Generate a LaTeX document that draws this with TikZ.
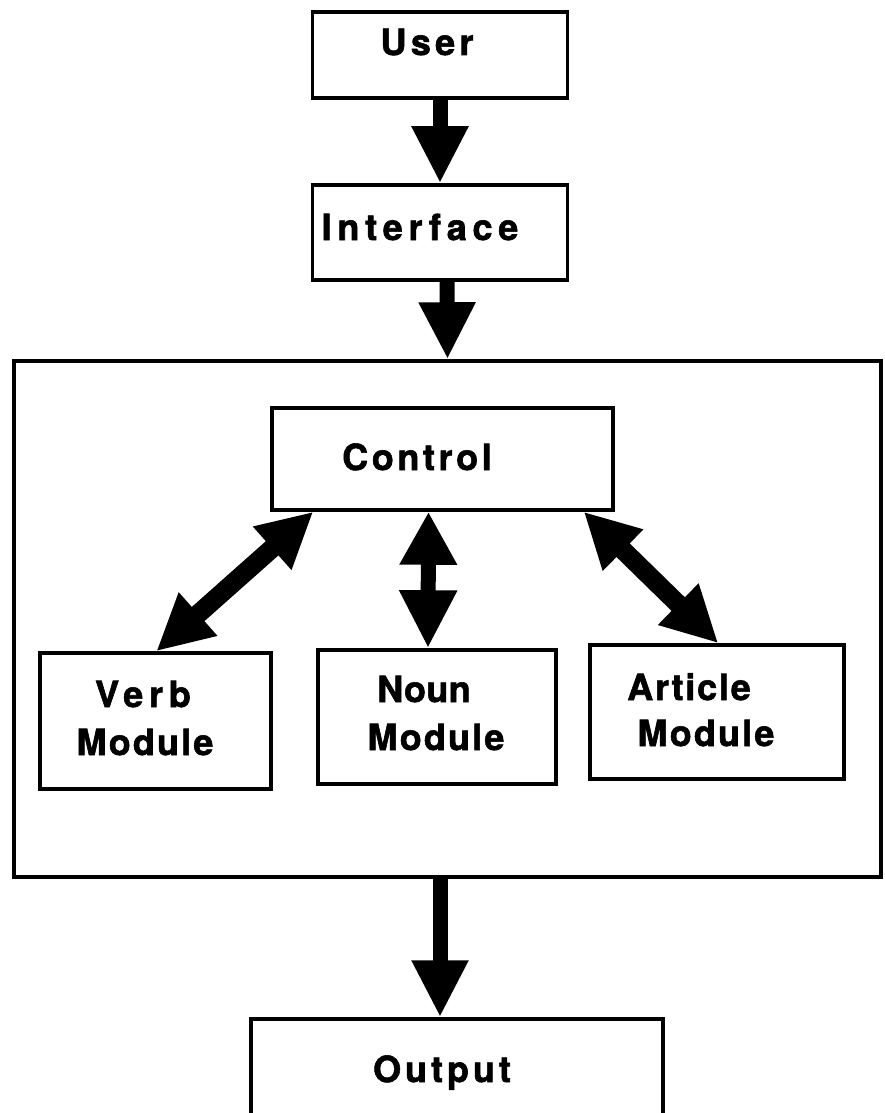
\documentclass[tikz,border=0pt]{standalone}
\usepackage{fontspec}
\setmainfont{TeX Gyre Heros}
\usetikzlibrary{arrows.meta,calc}
% letter-spaced, heavy label text
\newcommand\spaced[2]{{\addfontfeature{LetterSpace=#1,FakeBold=1.6}#2}}
\begin{document}
\begin{tikzpicture}[x=1pt,y=-1pt,
  box/.style={draw, line width=3.5pt, rectangle, inner sep=0pt},
  lbl/.style={font=\fontsize{36}{42}\selectfont\bfseries, inner sep=0pt, anchor=base},
  flow/.style={line width=15pt, -{Triangle[length=57pt,width=53pt]}},
  link/.style={line width=19pt, {Triangle[length=55pt,width=54pt]}-{Triangle[length=56pt,width=54pt]}},
  vlink/.style={line width=15pt, {Triangle[length=53pt,width=54pt]}-{Triangle[length=58pt,width=54pt]}},
]
\clip (0,0) rectangle (885,1113);
\fill[white] (0,0) rectangle (885,1113);

% boxes
\node[box, minimum width=255pt, minimum height=86pt] (user) at (440,55) {};
\node[box, minimum width=255pt, minimum height=95pt] (iface) at (440,232.5) {};
\node[box, minimum width=867pt, minimum height=516pt] (system) at (447.5,619) {};
\node[box, minimum width=341pt, minimum height=102pt] (control) at (442.5,459) {};
\node[box, minimum width=231pt, minimum height=136pt] (verb) at (155.5,721) {};
\node[box, minimum width=238pt, minimum height=134pt] (noun) at (437,717) {};
\node[box, minimum width=254pt, minimum height=134pt] (article) at (717,712) {};
\node[box, minimum width=412pt, minimum height=130pt] (output) at (457,1084) {};

% labels
\node[lbl] (userT) at (427,55) {\spaced{12}{User}};
\node[lbl] (ifaceT) at (420,240) {\spaced{16}{Interface}};
\node[lbl] (controlT) at (417,470) {\spaced{10}{Control}};
\node[lbl] (verbT1) at (143,707) {\spaced{16}{Verb}};
\node[lbl] (verbT2) at (145,755) {\spaced{6}{Module}};
\node[lbl] (nounT1) at (424,702) {\spaced{1}{Noun}};
\node[lbl] (nounT2) at (436,750) {\spaced{6}{Module}};
\node[lbl] (articleT1) at (689,700) {\spaced{5}{Article}};
\node[lbl] (articleT2) at (706,746) {\spaced{6}{Module}};
\node[lbl] (outputT) at (442,1082) {\spaced{11}{Output}};

% flow arrows
\draw[flow] (user.south) -- (iface.north);
\draw[flow] ($(iface.south)+(7,0)$) -- (system.north);
\draw[flow] ($(system.south)+(-7.5,0)$) -- ($(output.north)+(-17,0)$);

% two-way links between control and the modules
\draw[link] ($(control.south west)+(43,0)$) -- ($(verb.north west)+(118,0)$);
\draw[vlink] ($(control.south)+(-14,0)$) -- ($(noun.north)+(-9,0)$);
\draw[link] ($(control.south east)+(-31,0)$) -- ($(article.north west)+(130,0)$);
\end{tikzpicture}
\end{document}
